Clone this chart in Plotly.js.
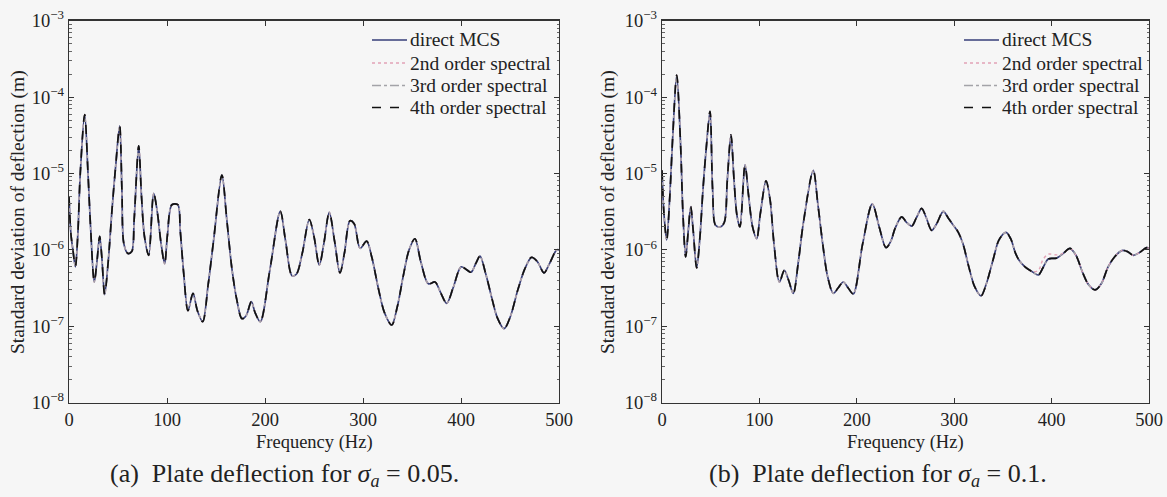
<!DOCTYPE html>
<html>
<head>
<meta charset="utf-8">
<script src="https://cdn.plot.ly/plotly-3.0.1.min.js"></script>
<style>
html,body{margin:0;padding:0;background:#f6f6f6;}
#chart{width:1167px;height:497px;}
</style>
</head>
<body>
<div id="chart"></div>
<script>
// ---- data ----
const seriesNames = ['direct MCS', '2nd order spectral', '3rd order spectral', '4th order spectral'];

// (a) sigma_a = 0.05
const freqA = [0, 2, 4, 6.5, 9, 11.5, 16, 19.4, 22, 25.8, 28.5, 31.3, 33.5, 36.4, 40, 44, 47.5, 51.7, 54, 56, 60, 64, 66.5, 71.1, 74, 77, 81.3, 86.4, 90, 94, 97.6, 100.5, 105, 111, 113.5, 117, 121.4, 126.5, 131, 136.4, 142, 147.6, 156, 161, 166, 171, 176.5, 181, 186, 190, 195.2, 205, 215.6, 221, 227.6, 232, 238, 245.2, 250, 255.4, 260, 265.6, 271, 276.5, 281, 286.7, 291, 297, 303.7, 309, 316, 322, 329.3, 335, 341, 347, 353, 359, 366.7, 373.5, 379, 385.4, 392, 400, 405, 410.2, 415, 419.4, 425, 432, 437, 443.9, 450, 458, 465, 472, 478, 484.7, 490, 497.6, 500];
const mcsA  = [5e-6, 1.6e-6, 1.0e-6, 6e-7, 1.6e-6, 1.0e-5, 5.9e-5, 1.0e-5, 2.0e-6, 3.8e-7, 7e-7, 1.5e-6, 8e-7, 2.6e-7, 7e-7, 3.5e-6, 1.2e-5, 4.2e-5, 6e-6, 1.2e-6, 9e-7, 9.5e-7, 2.5e-6, 2.3e-5, 5e-6, 1.5e-6, 8.5e-7, 5.5e-6, 3.2e-6, 1.2e-6, 6.6e-7, 1.6e-6, 3.9e-6, 3.9e-6, 1.8e-6, 5e-7, 1.6e-7, 2.7e-7, 1.6e-7, 1.15e-7, 3.5e-7, 1.35e-6, 9.5e-6, 2.5e-6, 6e-7, 2.3e-7, 1.26e-7, 1.4e-7, 2.1e-7, 1.5e-7, 1.15e-7, 5.5e-7, 3.2e-6, 1.3e-6, 4.6e-7, 4.8e-7, 9e-7, 2.5e-6, 1.5e-6, 6.3e-7, 1.2e-6, 3.1e-6, 1.3e-6, 5e-7, 9e-7, 2.4e-6, 2.2e-6, 1.05e-6, 1.3e-6, 8e-7, 3e-7, 1.5e-7, 1.04e-7, 1.8e-7, 4.5e-7, 1.0e-6, 1.4e-6, 7e-7, 3.6e-7, 3.8e-7, 2.8e-7, 2.0e-7, 3.2e-7, 6e-7, 5.6e-7, 5.1e-7, 6.6e-7, 8.3e-7, 5e-7, 2.2e-7, 1.3e-7, 9.3e-8, 1.3e-7, 3e-7, 5.6e-7, 8e-7, 7e-7, 5e-7, 6.5e-7, 1.0e-6, 1.0e-6];
const spec2A = mcsA, spec3A = mcsA, spec4A = mcsA;

// (b) sigma_a = 0.1
const freqB = [0, 2, 4.8, 8, 11, 15.1, 19, 21.5, 24.3, 27, 29.5, 32, 35.6, 39, 42, 45.5, 49.3, 52, 55, 60, 64, 67, 70.8, 74, 77, 80, 85.2, 89, 93, 97.2, 101, 106.8, 111, 115, 120.5, 125.6, 130, 134.8, 140, 145, 155.3, 160, 165, 170, 175.9, 181, 186.1, 191, 196.4, 206, 215.9, 223, 230, 235, 239.2, 246.1, 251, 256.4, 261, 266.6, 271, 276.9, 282, 288.8, 294, 298, 304.2, 309, 315, 321, 327.5, 333, 340, 346, 353.2, 358, 363, 367, 372.7, 380, 386.4, 391, 396.6, 405, 412, 418.9, 425, 432, 438, 444.6, 451, 458, 465, 472, 478, 483.9, 490, 497.6, 500];
const mcsB  = [1.1e-5, 3e-6, 1.35e-6, 5e-6, 3e-5, 1.94e-4, 2.5e-5, 3e-6, 8.1e-7, 1.8e-6, 3.7e-6, 1.8e-6, 5.8e-7, 1.5e-6, 6e-6, 2.2e-5, 6.5e-5, 6e-6, 2.1e-6, 2.0e-6, 2.3e-6, 8e-6, 3.2e-5, 8e-6, 2.8e-6, 2.0e-6, 1.3e-5, 5e-6, 2e-6, 1.4e-6, 3e-6, 8e-6, 4.5e-6, 1.2e-6, 3.8e-7, 5.4e-7, 4e-7, 2.7e-7, 7e-7, 2.2e-6, 1.1e-5, 4e-6, 1.2e-6, 4.5e-7, 2.7e-7, 3.2e-7, 3.8e-7, 3.2e-7, 2.65e-7, 1.2e-6, 4e-6, 2e-6, 1.07e-6, 1.3e-6, 1.9e-6, 2.7e-6, 2.3e-6, 2.05e-6, 2.6e-6, 3.5e-6, 2.7e-6, 1.8e-6, 2.2e-6, 3.2e-6, 2.6e-6, 2.2e-6, 1.7e-6, 1.2e-6, 6e-7, 3.3e-7, 2.5e-7, 3.6e-7, 7.5e-7, 1.35e-6, 1.7e-6, 1.4e-6, 9e-7, 7.2e-7, 6e-7, 5.2e-7, 4.7e-7, 5.8e-7, 7.6e-7, 7.8e-7, 9e-7, 1.05e-6, 8.5e-7, 5e-7, 3.5e-7, 3e-7, 3.6e-7, 6e-7, 8.2e-7, 9.8e-7, 9.5e-7, 8.5e-7, 9.2e-7, 1.07e-6, 1.05e-6];
const spec2B = mcsB.map((v, i) => ({386.4: 5.4e-7, 391: 7.4e-7, 396.6: 8.8e-7, 405: 8.6e-7}[freqB[i]] ?? v));
const spec3B = mcsB, spec4B = mcsB;

const xTickVals = [0, 100, 200, 300, 400, 500];
const yTickVals = [1e-8, 1e-7, 1e-6, 1e-5, 1e-4, 1e-3];
const yTickText = ['10<sup>−8</sup>', '10<sup>−7</sup>', '10<sup>−6</sup>', '10<sup>−5</sup>', '10<sup>−4</sup>', '10<sup>−3</sup>'];
const captions = ['(a)  Plate deflection for <i>σ<sub>a</sub></i> = 0.05.', '(b)  Plate deflection for <i>σ<sub>a</sub></i> = 0.1.'];

// ---- styling ----
const FONT = '"Liberation Serif", "Times New Roman", serif';
const styles = [
  {color: '#363e78', width: 1.7, dash: 'solid'},
  {color: '#e2a3b6', width: 1.4, dash: 'dot'},
  {color: '#a3a3a8', width: 1.4, dash: 'dashdot'},
  {color: '#111111', width: 1.7, dash: 'dash'}
];

const panels = [
  {x: freqA, ys: [mcsA, spec2A, spec3A, spec4A], xa: 'x', ya: 'y', legX: 372},
  {x: freqB, ys: [mcsB, spec2B, spec3B, spec4B], xa: 'x2', ya: 'y2', legX: 964}
];

const traces = [];
panels.forEach(p => {
  p.ys.forEach((y, k) => {
    traces.push({
      type: 'scatter', mode: 'lines', x: p.x, y: y, name: seriesNames[k],
      xaxis: p.xa, yaxis: p.ya, showlegend: false,
      line: Object.assign({shape: 'spline', smoothing: 0.9}, styles[k]),
      hoverinfo: 'x+y+name'
    });
  });
});

const minorVals = [];
for (let e = -8; e < -3; e++) for (let m = 2; m <= 9; m++) minorVals.push(m * Math.pow(10, e));

function xAxis(domain, anchor) {
  return {
    domain: domain, anchor: anchor, range: [0, 500], tickvals: xTickVals,
    ticks: 'inside', ticklen: 5, tickcolor: '#333', showline: true, linecolor: '#333', linewidth: 1.2,
    mirror: 'ticks', showgrid: false, zeroline: false,
    tickfont: {family: FONT, size: 18.5, color: '#222'}
  };
}
function yAxis(anchor) {
  return {
    domain: [0.1897, 0.9584], anchor: anchor, type: 'log', range: [-8, -3],
    tickvals: yTickVals, ticktext: yTickText,
    ticks: 'inside', ticklen: 5, tickcolor: '#333', showline: true, linecolor: '#333', linewidth: 1.2,
    mirror: 'ticks', showgrid: false, zeroline: false,
    minor: {ticks: 'inside', ticklen: 2.5, tickcolor: '#666', tickvals: minorVals, showgrid: false},
    tickfont: {family: FONT, size: 18.5, color: '#222'}
  };
}

const ann = [];
const shapes = [];
const txt = (text, x, y, size, angle, anchor) => ann.push({
  text: text, x: x / 1167, y: (497 - y) / 497, xref: 'paper', yref: 'paper',
  showarrow: false, xanchor: anchor || 'center', yanchor: 'middle', textangle: angle || 0,
  font: {family: FONT, size: size, color: '#222'}
});
txt('Frequency (Hz)', 314, 442, 18.5);
txt('Frequency (Hz)', 905, 442, 18.5);
txt('Standard deviation of deflection (m)', 18, 212, 19.5, -90);
txt('Standard deviation of deflection (m)', 608, 212, 19.5, -90);
txt(captions[0], 284, 475, 26);
txt(captions[1], 878, 475, 26);

// legends (one per panel), drawn as line samples + labels
const legRows = [40, 63, 85.5, 107.5];
panels.forEach(p => {
  seriesNames.forEach((name, k) => {
    const yy = (497 - legRows[k]) / 497;
    shapes.push({
      type: 'line', xref: 'paper', yref: 'paper',
      x0: p.legX / 1167, x1: (p.legX + 35) / 1167, y0: yy, y1: yy,
      line: {color: styles[k].color, width: styles[k].width, dash: styles[k].dash}
    });
    txt(name, p.legX + 36, legRows[k], 19.5, 0, 'left');
  });
});

const layout = {
  width: 1167, height: 497, margin: {l: 0, r: 0, t: 0, b: 0},
  paper_bgcolor: '#f6f6f6', plot_bgcolor: '#f6f6f6',
  xaxis: xAxis([69 / 1167, 559 / 1167], 'y'),
  yaxis: yAxis('x'),
  xaxis2: xAxis([662 / 1167, 1149 / 1167], 'y2'),
  yaxis2: yAxis('x2'),
  annotations: ann,
  shapes: shapes,
  showlegend: false
};

Plotly.newPlot('chart', traces, layout, {displayModeBar: false, staticPlot: true});
</script>
</body>
</html>
